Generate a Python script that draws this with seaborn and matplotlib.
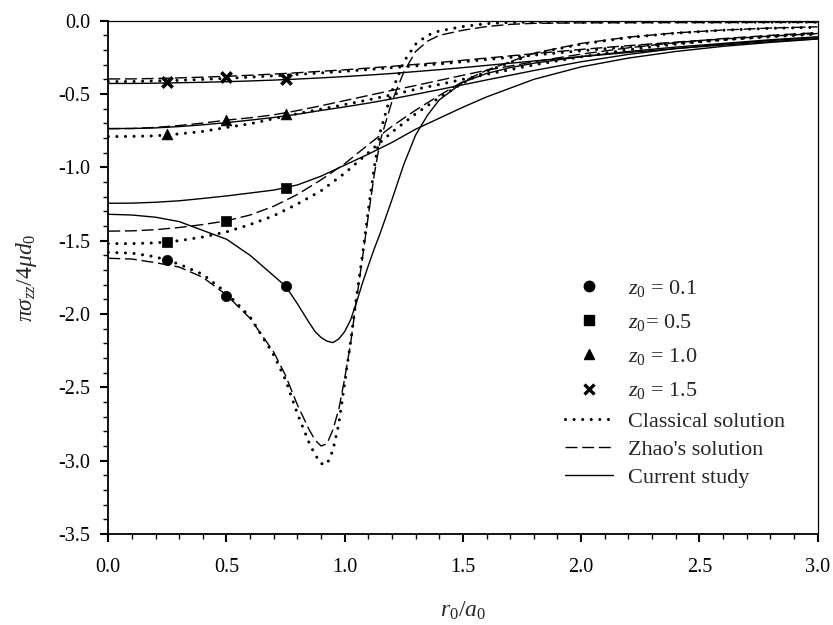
import matplotlib
matplotlib.use("Agg")
import matplotlib.pyplot as plt
from matplotlib.lines import Line2D
from matplotlib.ticker import MultipleLocator, FormatStrFormatter
import numpy as np
import pandas as pd
import seaborn as sns

# ---------------------------------------------------------------------------
# Radial positions r0/a0
r_fine = [0.0, 0.1, 0.2, 0.3, 0.4, 0.5, 0.6, 0.7, 0.75, 0.8, 0.85, 0.875, 0.9,
          0.925, 0.95, 0.975, 1.0, 1.025, 1.05, 1.075, 1.1, 1.125, 1.15, 1.2,
          1.25, 1.3, 1.35, 1.4, 1.5, 1.6, 1.7, 1.8, 2.0, 2.2, 2.4, 2.6, 2.8, 3.0]
r_coarse = [0.0, 0.1, 0.2, 0.3, 0.4, 0.5, 0.6, 0.7, 0.8, 0.9, 1.0, 1.1, 1.2,
            1.3, 1.4, 1.5, 1.6, 1.8, 2.0, 2.2, 2.4, 2.6, 2.8, 3.0]

# z0 = 0.1
classical_01 = [-1.58, -1.585, -1.61, -1.66, -1.73, -1.855, -2.02, -2.28, -2.45,
                -2.68, -2.88, -2.96, -3.02, -3.025, -2.93, -2.75, -2.47, -2.19,
                -1.88, -1.60, -1.29, -1.00, -0.76, -0.48, -0.28, -0.16, -0.10,
                -0.07, -0.04, -0.02, -0.012, -0.01, -0.01, -0.01, -0.01, -0.01,
                -0.01, -0.01]
zhao_01 = [-1.62, -1.625, -1.65, -1.68, -1.75, -1.87, -2.03, -2.26, -2.42, -2.62,
           -2.79, -2.86, -2.90, -2.885, -2.79, -2.65, -2.44, -2.20, -1.90, -1.62,
           -1.33, -1.05, -0.82, -0.55, -0.35, -0.21, -0.14, -0.10, -0.065, -0.04,
           -0.025, -0.018, -0.015, -0.014, -0.013, -0.013, -0.012, -0.012]
current_01 = [-1.32, -1.325, -1.34, -1.37, -1.43, -1.49, -1.60, -1.74, -1.81,
              -1.93, -2.06, -2.12, -2.16, -2.185, -2.195, -2.17, -2.12, -2.04,
              -1.92, -1.79, -1.67, -1.555, -1.45, -1.22, -0.98, -0.78, -0.645,
              -0.54, -0.42, -0.36, -0.32, -0.29, -0.245, -0.21, -0.18, -0.155,
              -0.13, -0.11]

# z0 = 0.5
classical_05 = [-1.52, -1.52, -1.515, -1.50, -1.475, -1.44, -1.39, -1.33, -1.25,
                -1.16, -1.04, -0.90, -0.76, -0.635, -0.525, -0.425, -0.345,
                -0.225, -0.16, -0.115, -0.085, -0.065, -0.052, -0.045]
zhao_05 = [-1.435, -1.433, -1.425, -1.41, -1.39, -1.365, -1.325, -1.265, -1.185,
           -1.085, -0.975, -0.845, -0.72, -0.61, -0.51, -0.415, -0.338, -0.222,
           -0.155, -0.112, -0.083, -0.064, -0.05, -0.042]
current_05 = [-1.245, -1.244, -1.238, -1.228, -1.212, -1.195, -1.175, -1.155,
              -1.12, -1.06, -0.985, -0.91, -0.83, -0.74, -0.665, -0.59, -0.52,
              -0.40, -0.315, -0.255, -0.21, -0.175, -0.148, -0.125]

# z0 = 1.0
classical_10 = [-0.79, -0.789, -0.785, -0.772, -0.755, -0.728, -0.703, -0.668,
                -0.634, -0.603, -0.572, -0.54, -0.505, -0.468, -0.435, -0.40,
                -0.366, -0.302, -0.246, -0.198, -0.16, -0.13, -0.105, -0.085]
zhao_10 = [-0.737, -0.735, -0.728, -0.715, -0.698, -0.678, -0.662, -0.642,
           -0.613, -0.58, -0.545, -0.51, -0.475, -0.442, -0.407, -0.372, -0.338,
           -0.28, -0.228, -0.185, -0.15, -0.122, -0.1, -0.082]
current_10 = [-0.735, -0.735, -0.731, -0.722, -0.71, -0.695, -0.678, -0.66,
              -0.638, -0.612, -0.588, -0.562, -0.533, -0.502, -0.47, -0.437,
              -0.404, -0.34, -0.28, -0.23, -0.19, -0.16, -0.135, -0.115]

# z0 = 1.5
classical_15 = [-0.415, -0.415, -0.41, -0.407, -0.40, -0.393, -0.385, -0.376,
                -0.366, -0.356, -0.345, -0.333, -0.32, -0.308, -0.295, -0.28,
                -0.265, -0.235, -0.205, -0.178, -0.153, -0.13, -0.11, -0.092]
zhao_15 = [-0.397, -0.397, -0.394, -0.39, -0.385, -0.379, -0.372, -0.364, -0.355,
           -0.345, -0.335, -0.323, -0.311, -0.298, -0.285, -0.27, -0.255, -0.225,
           -0.196, -0.17, -0.146, -0.125, -0.105, -0.088]
current_15 = [-0.428, -0.428, -0.426, -0.423, -0.42, -0.416, -0.411, -0.405,
              -0.398, -0.39, -0.381, -0.371, -0.36, -0.347, -0.334, -0.32, -0.305,
              -0.275, -0.245, -0.217, -0.19, -0.166, -0.143, -0.123]

# Discrete results
r_points = [0.25, 0.5, 0.75]
points_01 = [-1.635, -1.877, -1.81]
points_05 = [-1.51, -1.367, -1.14]
points_10 = [-0.771, -0.675, -0.637]
points_15 = [-0.415, -0.381, -0.399]

z0_labels = [r"$\mathit{z_0}$ = 0.1", r"$\mathit{z_0}$= 0.5",
             r"$\mathit{z_0}$ = 1.0", r"$\mathit{z_0}$ = 1.5"]
solution_labels = ["Classical solution", "Zhao's solution", "Current study"]

# ---------------------------------------------------------------------------
curves = [
    ("0.1", "Classical solution", r_fine, classical_01),
    ("0.1", "Zhao's solution", r_fine, zhao_01),
    ("0.1", "Current study", r_fine, current_01),
    ("0.5", "Classical solution", r_coarse, classical_05),
    ("0.5", "Zhao's solution", r_coarse, zhao_05),
    ("0.5", "Current study", r_coarse, current_05),
    ("1.0", "Classical solution", r_coarse, classical_10),
    ("1.0", "Zhao's solution", r_coarse, zhao_10),
    ("1.0", "Current study", r_coarse, current_10),
    ("1.5", "Classical solution", r_coarse, classical_15),
    ("1.5", "Zhao's solution", r_coarse, zhao_15),
    ("1.5", "Current study", r_coarse, current_15),
]
rows = []
for z0, sol, rr, vals in curves:
    for r, v in zip(rr, vals):
        rows.append({"z0": z0, "solution": sol, "r": r, "stress": v})
df = pd.DataFrame(rows)

pts = pd.DataFrame({
    "z0": ["0.1"] * 3 + ["0.5"] * 3 + ["1.0"] * 3 + ["1.5"] * 3,
    "r": r_points * 4,
    "stress": points_01 + points_05 + points_10 + points_15,
})

sns.set_theme(style="ticks")
plt.rcParams["font.family"] = ["Liberation Serif", "DejaVu Serif"]
plt.rcParams["mathtext.fontset"] = "custom"
plt.rcParams["mathtext.rm"] = "Liberation Serif"
plt.rcParams["mathtext.it"] = "Liberation Serif:italic"
plt.rcParams["mathtext.bf"] = "Liberation Serif:bold"
plt.rcParams["axes.unicode_minus"] = False

line_styles = {
    "Classical solution": dict(linestyle=(0, (0.01, 2.8)), linewidth=2.2,
                               dash_capstyle="round"),
    "Zhao's solution": dict(linestyle=(0, (8.6, 3.4)), linewidth=1.0),
    "Current study": dict(linestyle="-", linewidth=1.0),
}
markers = {"0.1": "o", "0.5": "s", "1.0": "^", "1.5": "x"}
marker_size = {"0.1": 55, "0.5": 48, "1.0": 60, "1.5": 55}

fig = plt.figure(figsize=(8.33, 6.25), dpi=100)
ax = fig.add_axes([0.130, 0.1456, 0.8514, 0.8213])

for (z0, sol), sub in df.groupby(["z0", "solution"], sort=False):
    sns.lineplot(data=sub, x="r", y="stress", ax=ax, color="black",
                 estimator=None, sort=False, legend=False, **line_styles[sol])

for z0, sub in pts.groupby("z0", sort=False):
    m = markers[z0]
    if m == "x":
        sns.scatterplot(data=sub, x="r", y="stress", ax=ax, marker=m,
                        color="black", s=marker_size[z0], linewidth=2.6,
                        legend=False, zorder=5)
    else:
        sns.scatterplot(data=sub, x="r", y="stress", ax=ax, marker=m,
                        color="black", edgecolor="black", s=marker_size[z0],
                        linewidth=0.5, legend=False, zorder=5)

ax.set_xlim(0, 3)
ax.set_ylim(-3.5, 0)
ax.xaxis.set_major_locator(MultipleLocator(0.5))
ax.xaxis.set_minor_locator(MultipleLocator(0.1))
ax.yaxis.set_major_locator(MultipleLocator(0.5))
ax.yaxis.set_minor_locator(MultipleLocator(0.1))
ax.xaxis.set_major_formatter(FormatStrFormatter("%.1f"))
ax.yaxis.set_major_formatter(FormatStrFormatter("%.1f"))
ax.tick_params(which="major", direction="out", length=6, width=1.5,
               labelsize=14.5, colors="black")
ax.tick_params(axis="x", which="major", pad=11)
ax.tick_params(axis="y", which="major", pad=7)
ax.tick_params(which="minor", direction="out", length=3.5, width=1.0,
               colors="black")
ax.tick_params(top=False, right=False, which="both")
for side in ["left", "bottom"]:
    ax.spines[side].set_linewidth(1.3)
for side in ["top", "right"]:
    ax.spines[side].set_linewidth(0.9)
for sp in ax.spines.values():
    sp.set_color("black")
    sp.set_visible(True)

ax.set_xlabel(r"$r_{\mathit{0}}/a_{\mathit{0}}$", fontsize=17)
ax.set_ylabel(r"$\pi\sigma_{zz}/4\mu d_{\mathit{0}}$", fontsize=17)
ax.xaxis.set_label_coords(0.5, -0.128)
ax.yaxis.set_label_coords(-0.098, 0.5)

marker_handles = [
    Line2D([], [], marker="o", linestyle="none", color="black", markersize=7.5),
    Line2D([], [], marker="s", linestyle="none", color="black", markersize=6.5),
    Line2D([], [], marker="^", linestyle="none", color="black", markersize=7.5),
    Line2D([], [], marker="x", linestyle="none", color="black", markersize=7,
           markeredgewidth=2.4),
]
leg1 = ax.legend(marker_handles, z0_labels, loc="upper left",
                 bbox_to_anchor=(565 / 833, 1 - 278 / 625),
                 bbox_transform=fig.transFigure, frameon=False, fontsize=16,
                 handlelength=2.16, handletextpad=0.66, borderpad=0,
                 borderaxespad=0, labelspacing=0.59)
ax.add_artist(leg1)

line_handles = [Line2D([], [], color="black", **line_styles[s])
                for s in solution_labels]
ax.legend(line_handles, solution_labels, loc="upper left",
          bbox_to_anchor=(565 / 833, 1 - 411 / 625),
          bbox_transform=fig.transFigure, frameon=False, fontsize=16,
          handlelength=2.16, handletextpad=0.66, borderpad=0,
          borderaxespad=0, labelspacing=0.35)

fig.savefig("out.png", dpi=100)
